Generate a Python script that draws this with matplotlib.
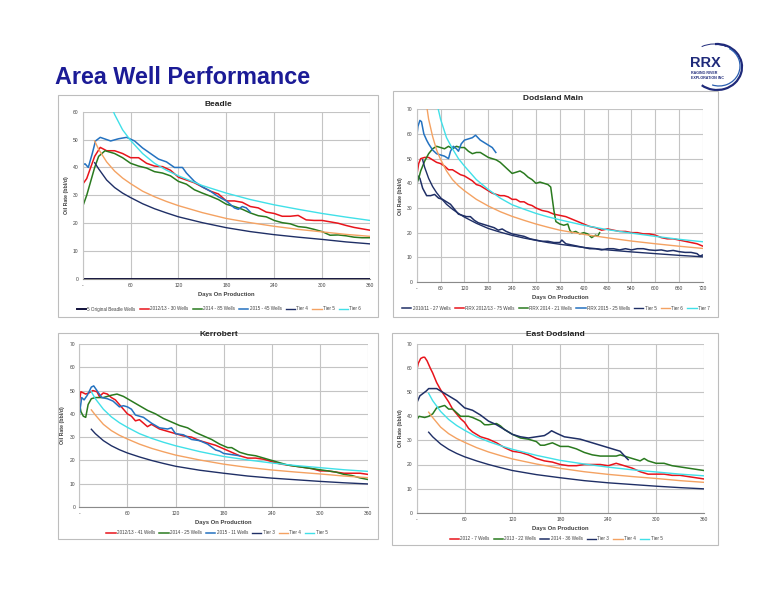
import matplotlib
matplotlib.use('Agg')
import matplotlib.pyplot as plt
from matplotlib.patches import Rectangle, Arc

plt.rcParams['font.family'] = ['Liberation Sans', 'DejaVu Sans']

# ---------------- data ----------------
TIER_DAYS = [15, 20, 30, 40, 50, 60, 75, 90, 105, 120, 150, 180, 210, 240, 270, 300, 330, 360,
             420, 480, 540, 600, 660, 720]
TIER3 = [33.4, 31.5, 28.5, 26.3, 24.6, 23.2, 21.5, 20.0, 18.7, 17.5, 15.8, 14.5, 13.3, 12.4, 11.7, 11.0, 10.4, 9.9]
TIER4 = [41.7, 39.5, 35.5, 32.8, 30.8, 29.2, 27.0, 25.2, 23.7, 22.3, 20.2, 18.4, 17.0, 15.9, 15.0, 14.2, 13.3, 12.6]
TIER5 = [49.5, 46.5, 42.0, 38.7, 36.2, 34.2, 31.5, 29.5, 27.8, 26.3, 23.8, 21.7, 20.2, 18.9, 17.8, 16.9, 16.0, 15.3,
         14.0, 13.0, 12.2, 11.5, 10.8, 10.2]
TIER6 = [84, 77, 66, 59, 53.5, 49.7, 45, 41.5, 39, 37, 33.5, 30.8, 28.5, 26.6, 25, 23.5, 22.2, 21,
         19.3, 17.9, 16.6, 15.5, 14.5, 13.6]
TIER7 = [125, 115, 97, 83, 73, 66, 58.5, 54, 50, 47, 41.5, 37.5, 34, 31.3, 29.5, 27.8, 26.4, 25.2,
         23, 21.2, 19.8, 18.5, 17.3, 16.3]

# Beadle
B_ORIG_DAYS = [0, 360]
B_ORIG = [0, 0]
B_1213_DAYS = [0, 5, 10, 15, 22] + list(range(30, 361, 10))
B_1213 = [34, 36, 40, 44, 47.2,
          46, 46, 45, 43.5, 43.5, 41.5, 40.5, 40.3, 39, 36.5,
          35.5, 34.5, 33, 31.5, 30.5, 28, 28, 27.5, 26, 25.5,
          24, 23.5, 22.5, 22.5, 22.8, 21.2, 21, 21, 20.5, 20,
          19.2, 18.5, 18, 17.5]
B_14_DAYS = [0, 5, 10, 15, 20, 28] + list(range(40, 361, 10))
B_14 = [26, 30, 35, 40, 44, 46,
        45, 43.5, 41.5, 40.5, 39.8, 38.5, 38, 37, 35, 34,
        32, 30.8, 29.7, 28.5, 26.8, 26, 25, 23.7, 22.7, 22.3,
        21, 20.2, 19.8, 18.8, 18.5, 17.8, 17, 15.7, 15.8, 15.5,
        15, 14.8, 14.8]
B_15_DAYS = [0, 3, 7, 12, 16, 22, 30, 35, 45, 55, 65, 75, 85, 95, 105, 115, 125, 130, 140, 150,
             160, 170, 180, 190, 195, 200, 205, 210]
B_15 = [41, 41.3, 40, 45, 49.5, 50.8, 50, 49.5, 50.3, 50.8,
        49.5, 47, 45, 43, 42, 40, 40, 38, 35, 33,
        31.5, 29.5, 28, 25.5, 25, 26, 25.5, 24]

# Dodsland Main
D_1011_DAYS = [0, 3, 8, 15, 25, 35, 45, 55, 65, 75, 85, 95, 105, 115, 125,
               135, 145, 155, 165, 175, 185, 195, 205, 215, 225,
               240, 255, 270, 285, 300, 315, 330, 345, 360,
               365, 375, 390, 405, 420, 435, 450, 465, 480, 495,
               510, 525, 540, 555, 570, 585, 600, 615, 630, 645,
               660, 675, 690, 705, 712, 720]
D_1011 = [37, 43, 42, 38, 35, 35, 35.5, 34, 33.5, 32.5, 31.5, 29.5, 27.5, 27, 26.5,
          26.5, 25, 24, 23.5, 23, 22.5, 22, 21, 21.5, 20.5,
          19.5, 19, 18.5, 17.5, 17, 16.5, 16.5, 16, 16,
          17, 15.5, 15, 14.5, 14, 13.5, 13.5, 13, 13.5, 13.5,
          13, 13.5, 13, 13.5, 13.5, 13, 12.8, 13, 12.5, 12.8,
          12.3, 12, 12, 11.5, 10.5, 11]
D_1213_DAYS = [0, 5, 10] + list(range(20, 301, 10)) + list(range(315, 721, 15))
D_1213 = [43, 48, 50,
          50.5, 50.5, 49.5, 48.5, 48, 47, 45.5, 45.5, 44.5, 43.5,
          43, 42, 41, 39.5, 39, 38, 37, 36, 35.5, 35,
          35, 34.5, 33.5, 33.5, 32.5, 32.5, 31.5, 31, 30,
          29, 28.5, 27.5, 27, 26.5, 25.5, 24.5, 23.5, 22.5, 22,
          21, 21.5, 21, 20.5, 20.5, 20, 20, 19.5, 19.5, 19,
          18, 17.5, 17.5, 17, 16.5, 16, 15.5, 14.5]
D_14_DAYS = [0, 5, 10] + list(range(20, 331, 10)) + [337, 345, 350, 360, 370, 380, 385, 390, 400,
                                                     410, 420, 430, 440, 450, 455, 460]
D_14 = [40, 42, 45,
        49, 52, 54, 55, 54.5, 54, 55, 54, 55, 54.5,
        54.5, 53, 52, 52.5, 52.5, 51.5, 50.5, 50, 49.5, 48.5,
        47, 45.5, 44, 44.5, 45, 44, 42.5, 41.5, 40, 40.5,
        40, 39.5,
        38.5, 29, 24.5, 23.5, 23, 23.5, 21, 20, 20.5,
        19.5, 20, 19.5, 18, 19, 18.5, 20]
D_15_DAYS = [0, 3, 8, 12, 18, 25, 30, 40, 50, 60, 70, 80, 85, 92, 100, 105, 112, 120, 130, 140,
             148, 160, 170, 180, 190, 199]
D_15 = [58.5, 63, 65.5, 65, 60, 57.5, 56, 53.5, 52, 51.5,
        51, 50, 53, 55, 54, 53, 56, 57.5, 58, 58.5,
        59.5, 57.5, 56.5, 55.5, 54.5, 52.5]

# Kerrobert
K_1213_DAYS = [0, 2, 5, 8, 12, 17, 22, 25, 30, 35, 40, 45, 50, 55, 60, 65, 70, 75, 80, 85, 90] + \
    list(range(100, 361, 10))
K_1213 = [45, 49.5, 49, 48.5, 49, 50, 49.5, 47.5, 49, 48.5, 47, 46, 44, 42, 40, 39, 37, 37.5, 36, 34.5, 35.5,
          33.5, 32.5, 31.5, 30.5, 30, 28.5, 27.5, 26.5, 25, 23.5,
          22, 21, 21, 20.5, 19.5, 18.5, 18, 17.5, 17, 16.5,
          15.5, 15.5, 15, 14.5, 14.5, 14.5, 14]
K_14_DAYS = [0, 2, 5, 8, 11, 15, 20, 30, 40, 47, 55, 65, 75, 85, 95, 105, 115, 125, 135, 145,
             155, 165, 175, 185, 190] + list(range(200, 361, 10))
K_14 = [45, 41, 39, 38.5, 44, 46.5, 47, 47, 48, 48.5, 47.5, 45.5, 43.5, 41.5, 40, 38, 36.5, 35, 34, 32,
        30.5, 29, 27, 25.5, 25.5,
        23.5, 22.5, 22, 21, 20, 19, 18, 17.5, 17, 16.5,
        16, 15.5, 15, 14, 13.5, 12.5, 11.8]
K_15_DAYS = [0, 3, 6, 10, 15, 18, 22, 28, 35, 42, 50, 55, 60, 65, 70, 80, 90, 100, 110, 115,
             120, 130, 140, 150, 160, 170, 175, 180, 190, 200]
K_15 = [39.5, 47, 46, 48, 51.5, 52, 50, 47, 46.5, 45.5,
        43, 43.5, 43, 42, 39.5, 38.5, 36, 34, 33.5, 34,
        31.5, 31, 29, 28.5, 27, 24.5, 24, 23, 22.5, 22]

# East Dodsland
E_12_DAYS = [0, 2, 5, 8, 10, 13, 17, 20, 25, 30, 35, 40, 45, 50, 55, 60, 65, 70] + list(range(80, 361, 10))
E_12 = [59, 62, 64, 64.5, 64.5, 63, 60, 58, 54, 51, 48.5, 46, 43, 41, 39, 37.5, 35, 33.5,
        31.5, 30.5, 29, 27, 25.5, 25, 24, 22.5, 21.5, 21,
        20, 19.5, 19.5, 20, 20, 20, 19.5, 20.5, 19.5, 18.5,
        17, 16, 16, 16, 15.5, 15.5, 15, 14.5, 14]
E_13_DAYS = [0, 3, 10, 15, 20, 25, 30, 35, 40, 45, 50, 55, 60, 65, 70, 80, 85, 90, 100, 105,
             110, 120, 130, 140, 150, 155, 160, 170, 180, 190, 200, 210, 220, 230, 240, 250, 255, 260,
             270, 280, 285, 290, 300, 310, 320, 330, 340, 350, 360]
E_13 = [38.5, 40, 39.5, 40, 41, 43.5, 44, 44.5, 43, 43,
        41.5, 40, 40, 40, 39.5, 38, 36.5, 36.5, 37, 36,
        34.5, 32.5, 31, 30.5, 29.5, 28, 28, 29, 27.5, 27.5,
        26.5, 25, 24, 23.5, 23.5, 23.5, 24, 23.5, 22.5, 21.5,
        22.5, 21.5, 20.5, 20.5, 19.5, 19, 18.5, 18, 17.5]
E_14_DAYS = [0, 4, 8, 12, 15, 20, 25, 30, 40, 50, 55, 60, 70, 80, 90, 100, 110, 120, 130, 140,
             150, 160, 165, 169, 175, 185, 195, 205, 215, 225, 235, 245, 255, 262, 265]
E_14 = [45.5, 48.5, 49.5, 50.5, 51.5, 51.5, 51.5, 50.5, 48.5, 46.5,
        45, 43.5, 42.5, 40.5, 38, 36.5, 34.5, 32.5, 31.5, 31,
        31.5, 32, 33, 34, 33, 31.5, 31, 30.5, 29.5, 28.5,
        27.5, 26.5, 25.5, 23, 22]

# ---------------- style ----------------
RED = '#e8141b'
GREEN = '#2a7a1f'
BLUE = '#2472c0'
NAVY = '#1f2f66'
ORANGE = '#f4a262'
CYAN = '#40e0e8'
BLACK = '#10103a'
GRID = '#c4c4c4'
TXT = '#404040'

W, H = 776, 600
fig = plt.figure(figsize=(W / 100, H / 100), dpi=100)


def fx(px):
    return px / W


def fy(py):
    return 1 - py / H


def box(x0, y0, x1, y1):
    fig.patches.append(Rectangle((fx(x0), fy(y1)), fx(x1) - fx(x0), fy(y0) - fy(y1),
                                 transform=fig.transFigure, fill=False,
                                 edgecolor='#bdbdbd', lw=0.8))


def panel(ax_px, box_px, title, title_px, xmax, ymax, series, legend_px, xlab_pad):
    x0, y0, x1, y1 = ax_px
    ax = fig.add_axes([fx(x0), fy(y1), fx(x1) - fx(x0), fy(y0) - fy(y1)])
    box(*box_px)
    for days, vals, color, lw, label in series:
        ax.plot(days[:len(vals)], vals, color=color, lw=lw, label=label, solid_joinstyle='round')
    ax.set_xlim(0, xmax)
    ax.set_ylim(0, ymax)
    xt = list(range(0, xmax + 1, 60))
    ax.set_xticks(xt)
    ax.set_xticklabels(['-'] + [str(v) for v in xt[1:]])
    ax.set_yticks(list(range(0, ymax + 1, 10)))
    ax.grid(True, color=GRID, lw=0.8)
    ax.set_axisbelow(True)
    for s in ax.spines.values():
        s.set_visible(False)
    ax.spines['left'].set_visible(True)
    ax.spines['left'].set_color(GRID)
    ax.spines['bottom'].set_visible(True)
    ax.spines['bottom'].set_color('#8a8a8a')
    ax.tick_params(axis='both', length=0, labelsize=3.6, colors=TXT, pad=3)
    ax.set_xlabel('Days On Production', fontsize=4.2, fontweight='bold', color=TXT, labelpad=xlab_pad)
    ax.set_ylabel('Oil Rate (bbl/d)', fontsize=3.8, fontweight='bold', color=TXT, labelpad=3)
    fig.text(fx(title_px[0]), fy(title_px[1]), title, ha='center', va='center',
             fontsize=6, fontweight='bold', color='#222222')
    ax.legend(loc='center', bbox_to_anchor=(fx(legend_px[0]), fy(legend_px[1])),
              bbox_transform=fig.transFigure, ncol=len(series), frameon=False,
              fontsize=3.3, handlelength=2.0, handletextpad=0.3, columnspacing=0.9,
              labelcolor=TXT)
    return ax


# Title
fig.text(fx(55), fy(78), 'Area Well Performance', ha='left', va='center',
         fontsize=16.8, fontweight='bold', color='#1b1b96')

# Logo
LX = 5
fig.text(fx(685 + LX), fy(63), 'RRX', ha='left', va='center', fontsize=10.5, fontweight='bold',
         color='#1f2a7a')
fig.text(fx(686 + LX), fy(73), 'RAGING RIVER', ha='left', va='center', fontsize=2.6, fontweight='bold',
         color='#1f2a7a')
fig.text(fx(686 + LX), fy(78), 'EXPLORATION INC', ha='left', va='center', fontsize=2.6, fontweight='bold',
         color='#1f2a7a')
lax = fig.add_axes([fx(680), fy(100), fx(760) - fx(680), fy(38) - fy(100)])
lax.set_xlim(680, 760)
lax.set_ylim(100, 38)
lax.axis('off')
lax.add_patch(Arc((712 + LX, 67), 50, 46, theta1=-95, theta2=130, color='#1f2a7a', lw=1.6))
lax.add_patch(Arc((714 + LX, 66), 42, 40, theta1=-60, theta2=110, color='#2b5fb0', lw=0.9))
lax.add_patch(Arc((709 + LX, 68), 54, 48, theta1=-120, theta2=-60, color='#1f2a7a', lw=0.7))

# Beadle
panel((82.7, 111.7, 370, 279), (58, 95, 378, 317), 'Beadle', (218, 104), 360, 60,
      [(B_ORIG_DAYS, B_ORIG, BLACK, 1.4, '5 Original Beadle Wells'),
       (B_1213_DAYS, B_1213, RED, 1.1, '2012/13 - 30 Wells'),
       (B_14_DAYS, B_14, GREEN, 1.1, '2014 - 85 Wells'),
       (B_15_DAYS, B_15, BLUE, 1.1, '2015 - 45 Wells'),
       (TIER_DAYS, TIER4, NAVY, 1.0, 'Tier 4'),
       (TIER_DAYS, TIER5, ORANGE, 1.0, 'Tier 5'),
       (TIER_DAYS, TIER6, CYAN, 1.0, 'Tier 6')],
      (219, 309), 3)

# Dodsland Main
panel((416.7, 109.3, 703, 282), (393, 91, 718, 317), 'Dodsland Main', (553, 99), 720, 70,
      [(D_1011_DAYS, D_1011, NAVY, 1.1, '2010/11 - 27 Wells'),
       (D_1213_DAYS, D_1213, RED, 1.1, 'RRX 2012/13 - 75 Wells'),
       (D_14_DAYS, D_14, GREEN, 1.1, 'RRX 2014 - 21 Wells'),
       (D_15_DAYS, D_15, BLUE, 1.1, 'RRX 2015 - 25 Wells'),
       (TIER_DAYS, TIER5, NAVY, 1.0, 'Tier 5'),
       (TIER_DAYS, TIER6, ORANGE, 1.0, 'Tier 6'),
       (TIER_DAYS, TIER7, CYAN, 1.0, 'Tier 7')],
      (556, 308), 3)

# Kerrobert
panel((79.3, 344, 368, 507), (58, 333, 378, 539), 'Kerrobert', (219, 335), 360, 70,
      [(K_1213_DAYS, K_1213, RED, 1.1, '2012/13 - 41 Wells'),
       (K_14_DAYS, K_14, GREEN, 1.1, '2014 - 25 Wells'),
       (K_15_DAYS, K_15, BLUE, 1.1, '2015 - 11 Wells'),
       (TIER_DAYS, TIER3, NAVY, 1.0, 'Tier 3'),
       (TIER_DAYS, TIER4, ORANGE, 1.0, 'Tier 4'),
       (TIER_DAYS, TIER5, CYAN, 1.0, 'Tier 5')],
      (217, 533), 3)

# East Dodsland
panel((416.7, 344, 704, 512.7), (392, 333, 718, 545), 'East Dodsland', (555, 335), 360, 70,
      [(E_12_DAYS, E_12, RED, 1.1, '2012 - 7 Wells'),
       (E_13_DAYS, E_13, GREEN, 1.1, '2013 - 22 Wells'),
       (E_14_DAYS, E_14, NAVY, 1.1, '2014 - 36 Wells'),
       (TIER_DAYS, TIER3, NAVY, 1.0, 'Tier 3'),
       (TIER_DAYS, TIER4, ORANGE, 1.0, 'Tier 4'),
       (TIER_DAYS, TIER5, CYAN, 1.0, 'Tier 5')],
      (556, 539), 3)

fig.savefig('out.png', dpi=100, facecolor='white')
